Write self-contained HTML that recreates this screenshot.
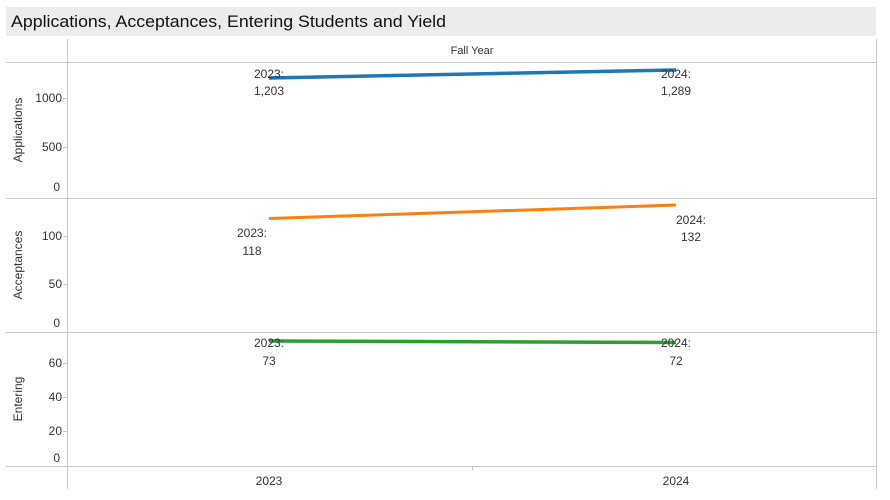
<!DOCTYPE html>
<html><head><style>body{margin:0;background:#fff}svg{display:block;font-family:"Liberation Sans",sans-serif}</style></head><body>
<svg width="890" height="500" xmlns="http://www.w3.org/2000/svg">
<rect x="6" y="7" width="870" height="29" fill="#ececec"/>
<text x="11" y="27" font-size="17" fill="#111" textLength="435" lengthAdjust="spacingAndGlyphs">Applications, Acceptances, Entering Students and Yield</text>
<g stroke="#c8c8c8" stroke-width="1">
<line x1="67.5" y1="39" x2="67.5" y2="489"/>
<line x1="876.5" y1="39" x2="876.5" y2="489"/>
<line x1="6" y1="62.5" x2="877" y2="62.5"/>
<line x1="6" y1="198.5" x2="877" y2="198.5"/>
<line x1="6" y1="332.5" x2="877" y2="332.5"/>
<line x1="6" y1="466.5" x2="877" y2="466.5"/>
<line x1="472.5" y1="466" x2="472.5" y2="470"/>
<line x1="63" y1="98.5" x2="67" y2="98.5"/><line x1="63" y1="147.5" x2="67" y2="147.5"/>
<line x1="63" y1="236.5" x2="67" y2="236.5"/><line x1="63" y1="284.5" x2="67" y2="284.5"/>
<line x1="63" y1="363.5" x2="67" y2="363.5"/><line x1="63" y1="397.5" x2="67" y2="397.5"/><line x1="63" y1="431.5" x2="67" y2="431.5"/>
</g>
<text x="472" y="54" font-size="11" fill="#333" text-anchor="middle">Fall Year</text>
<g font-size="12" fill="#333" text-anchor="end">
<text x="62" y="102">1000</text><text x="62" y="151">500</text><text x="60" y="191">0</text>
<text x="62" y="240">100</text><text x="62" y="288">50</text><text x="60" y="327">0</text>
<text x="62" y="367">60</text><text x="62" y="401">40</text><text x="62" y="435">20</text><text x="60" y="462">0</text>
</g>
<g font-size="12" fill="#333" text-anchor="middle">
<text transform="translate(22,130) rotate(-90)">Applications</text>
<text transform="translate(22,265) rotate(-90)">Acceptances</text>
<text transform="translate(22,399) rotate(-90)">Entering</text>
<text x="269" y="485">2023</text><text x="676" y="485">2024</text>
</g>
<polyline points="269,78 676,70" stroke="#1f77b4" stroke-width="3.5" fill="none"/>
<polyline points="269,218.5 676,205" stroke="#ff7f0e" stroke-width="3" fill="none"/>
<polyline points="269,341 676,342.5" stroke="#2ca02c" stroke-width="3.5" fill="none"/>
<g font-size="12" fill="#333" text-anchor="middle">
<text x="269" y="78">2023:</text><text x="269" y="95">1,203</text>
<text x="676" y="78">2024:</text><text x="676" y="95">1,289</text>
<text x="252" y="237">2023:</text><text x="252" y="255">118</text>
<text x="691" y="224">2024:</text><text x="691" y="241">132</text>
<text x="269" y="347">2023:</text><text x="269" y="365">73</text>
<text x="676" y="347">2024:</text><text x="676" y="365">72</text>
</g>
</svg>
</body></html>
